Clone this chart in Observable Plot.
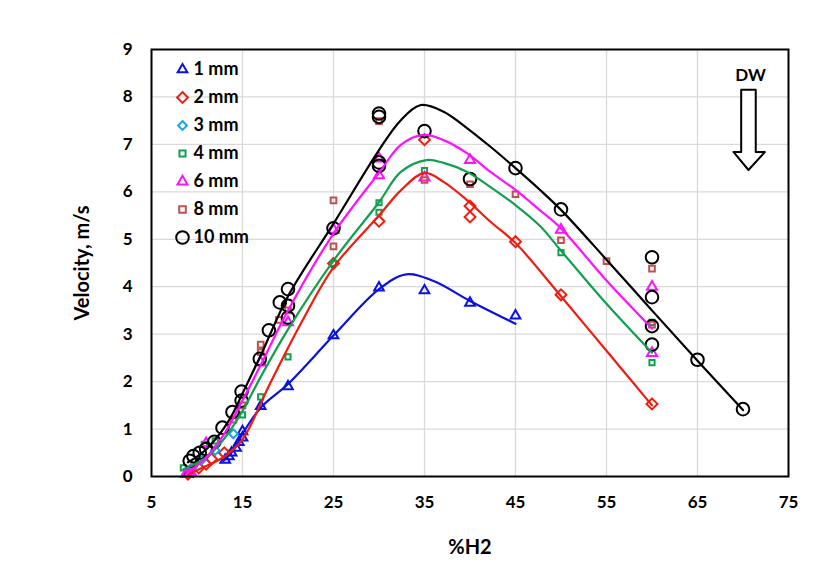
<!DOCTYPE html>
<html>
<head>
<meta charset="utf-8">
<script src="https://cdn.jsdelivr.net/npm/d3@7"></script>
<script src="https://cdn.jsdelivr.net/npm/@observablehq/plot@0.6"></script>
<style>
  html, body { margin: 0; padding: 0; background: #fff; }
  #chart { width: 830px; height: 587px; }
</style>
</head>
<body>
<div id="chart"></div>
<script>
// ---- Data ----
const seriesNames = ["1 mm", "2 mm", "3 mm", "4 mm", "6 mm", "8 mm", "10 mm"];
const seriesColors = ["#0a10e0", "#f01c10", "#1aa3e6", "#10a050", "#ff10ff", "#c0504d", "#000000"];
const seriesSymbols = ["triangle2", "diamond2", "diamond2", "square2", "triangle2", "square2", "circle"];
const seriesRadius = [4.6, 4.9, 4.0, 3.3, 4.8, 3.6, 6.3];

const xTicks = [5, 15, 25, 35, 45, 55, 65, 75];
const yTicks = [0, 1, 2, 3, 4, 5, 6, 7, 8, 9];

const h2_1mm = [9, 13.1, 13.5, 13.8, 14.3, 14.6, 15, 15, 17, 20, 25, 30, 35, 40, 45];
const v_1mm  = [0.05, 0.35, 0.42, 0.5, 0.6, 0.72, 0.82, 0.95, 1.48, 1.9, 2.97, 3.98, 3.92, 3.66, 3.39];

const h2_2mm = [9, 10.2, 11, 11.6, 13, 25, 30, 35, 40, 40, 45, 50, 60];
const v_2mm  = [0.05, 0.18, 0.26, 0.37, 0.5, 4.49, 5.38, 7.1, 5.7, 5.47, 4.95, 3.83, 1.53];

const h2_3mm = [9.5, 10.5, 12, 14];
const v_3mm  = [0.2, 0.35, 0.55, 0.9];

const h2_4mm = [8.5, 10.8, 12, 15, 17, 20, 25, 30, 30, 35, 50, 60, 60];
const v_4mm  = [0.18, 0.68, 0.75, 1.3, 1.68, 2.52, 4.49, 5.77, 5.57, 6.45, 4.72, 3.25, 2.4];

const h2_6mm = [8.8, 9.3, 11, 17, 20, 25, 30, 30, 35, 40, 50, 60, 60];
const v_6mm  = [0.05, 0.1, 0.7, 2.4, 3.25, 5.2, 6.7, 6.35, 6.3, 6.67, 5.2, 4.0, 2.6];

const h2_8mm = [14, 15, 17, 17, 19, 20, 25, 25, 30, 35, 40, 45, 50, 55, 60, 60];
const v_8mm  = [1.2, 1.5, 2.78, 2.62, 3.3, 3.5, 5.82, 4.85, 7.49, 6.25, 6.16, 5.95, 4.98, 4.54, 4.38, 3.2];

const h2_10mm = [9.2, 9.6, 10.3, 11, 11.9, 12.8, 13.9, 14.9, 14.9, 16.9, 17.9, 19.1, 20, 20, 20, 25, 30, 30, 30, 30, 35, 40, 45, 50, 60, 60, 60, 60, 65, 70];
const v_10mm  = [0.33, 0.43, 0.5, 0.58, 0.73, 1.03, 1.36, 1.79, 1.6, 2.48, 3.08, 3.67, 3.95, 3.6, 3.35, 5.23, 7.65, 7.58, 6.62, 6.55, 7.28, 6.27, 6.5, 5.63, 4.62, 3.78, 3.17, 2.78, 2.46, 1.42];

// Trend lines
const fitX_1mm = [12.9, 14, 15, 17, 20, 25, 30, 33, 36, 40, 45];
const fitV_1mm = [0.33, 0.55, 0.9, 1.45, 1.95, 2.97, 3.95, 4.26, 4.12, 3.7, 3.22];
const fitX_2mm = [9, 11, 13, 15, 18, 21.4, 25, 30, 32.4, 35, 37.1, 39.7, 42.25, 45, 50, 55, 60];
const fitV_2mm = [0.05, 0.22, 0.42, 0.78, 1.95, 3.22, 4.41, 5.5, 6.03, 6.4, 6.21, 5.82, 5.37, 4.92, 3.8, 2.65, 1.5];
const fitX_4mm = [8.5, 11, 13, 15, 17, 20, 25, 30, 32.4, 35.2, 37.1, 39.7, 42.25, 45, 47.7, 50, 55, 60];
const fitV_4mm = [0.15, 0.4, 0.8, 1.38, 2.1, 3.1, 4.55, 5.78, 6.42, 6.67, 6.61, 6.42, 6.1, 5.72, 5.28, 4.76, 3.64, 2.61];
const fitX_6mm = [8.8, 11, 13, 15, 17, 20, 25, 30, 32.4, 34.9, 37.1, 39.7, 42.25, 45, 47.7, 50, 55, 60];
const fitV_6mm = [0.05, 0.4, 0.9, 1.6, 2.35, 3.5, 5.12, 6.4, 6.99, 7.2, 7.09, 6.81, 6.42, 6.04, 5.61, 5.23, 4.13, 3.12];
const fitX_10mm = [9, 10, 11, 12, 13, 14, 15, 17, 20, 25, 30, 32.4, 34.6, 37.1, 39.7, 42.25, 45, 47.7, 50, 55, 60, 65, 70];
const fitV_10mm = [0.3, 0.42, 0.57, 0.78, 1.03, 1.35, 1.75, 2.55, 3.8, 5.33, 6.88, 7.51, 7.83, 7.69, 7.34, 6.95, 6.5, 6.04, 5.62, 4.57, 3.5, 2.44, 1.4];

// DW arrow annotation outline (data units)
const arrowX = [69.8, 71.4, 71.4, 72.4, 70.6, 68.95, 69.8, 69.8];
const arrowY = [8.15, 8.15, 6.84, 6.84, 6.46, 6.84, 6.84, 8.15];

// ---- Build tables ----
const pts = (xs, ys, s) => xs.map((x, i) => ({x, y: ys[i], s}));
const pointSets = [
  pts(h2_1mm, v_1mm, 0), pts(h2_2mm, v_2mm, 1), pts(h2_3mm, v_3mm, 2),
  pts(h2_4mm, v_4mm, 3), pts(h2_6mm, v_6mm, 4), pts(h2_8mm, v_8mm, 5),
  pts(h2_10mm, v_10mm, 6)
];
const fitSets = [
  [pts(fitX_1mm, fitV_1mm, 0), 0],
  [pts(fitX_2mm, fitV_2mm, 1), 1],
  [pts(fitX_4mm, fitV_4mm, 3), 3],
  [pts(fitX_6mm, fitV_6mm, 4), 4],
  [pts(fitX_10mm, fitV_10mm, 6), 6]
];
const arrow = arrowX.map((x, i) => ({x, y: arrowY[i]}));

const font = "Lato, 'Open Sans', sans-serif";
const marks = [];
marks.push(Plot.gridX(xTicks.slice(1, -1), {stroke: "#d9d9d9", strokeOpacity: 1, strokeWidth: 1.3}));
marks.push(Plot.gridY(yTicks.slice(1, -1), {stroke: "#d9d9d9", strokeOpacity: 1, strokeWidth: 1.3}));
marks.push(Plot.axisX(xTicks, {tickSize: 0, tickPadding: 19, label: null, fontSize: 17, fontWeight: "bold"}));
marks.push(Plot.axisY(yTicks, {tickSize: 0, tickPadding: 19, label: null, fontSize: 17, fontWeight: "bold"}));

// points
pointSets.forEach((set, k) => {
  marks.push(Plot.dot(set, {
    x: "x", y: "y", symbol: () => seriesSymbols[k], r: seriesRadius[k],
    stroke: seriesColors[k], strokeWidth: 2, fill: "none"
  }));
});
// fit lines
fitSets.forEach(([set, k]) => {
  marks.push(Plot.line(set, {x: "x", y: "y", stroke: seriesColors[k], strokeWidth: 2.2, curve: "catmull-rom"}));
});

// frame
marks.push(Plot.frame({stroke: "#000", strokeWidth: 2}));

// legend inside plot
seriesNames.forEach((name, i) => {
  marks.push(Plot.dot([name], {
    frameAnchor: "top-left", dx: 31, dy: 20 + i * 28,
    symbol: () => seriesSymbols[i], r: seriesRadius[i] + (i === 3 || i === 5 ? 0.6 : 0),
    stroke: seriesColors[i], strokeWidth: 2, fill: "none"
  }));
  marks.push(Plot.text([name], {
    frameAnchor: "top-left", dx: 42, dy: 20 + i * 28, text: d => d,
    textAnchor: "start", lineAnchor: "middle", fontSize: 18, fontWeight: "bold", fill: "#000"
  }));
});

// DW annotation
marks.push(Plot.line(arrow, {x: "x", y: "y", stroke: "#000", strokeWidth: 2, fill: "white", curve: "linear"}));
marks.push(Plot.text(["DW"], {frameAnchor: "top-right", dx: -38, dy: 26, text: d => d, textAnchor: "middle", lineAnchor: "middle", fontSize: 17, fontWeight: "bold", fill: "#000"}));

// axis titles
marks.push(Plot.text(["%H2"], {frameAnchor: "bottom", dy: 71, text: d => d, lineAnchor: "middle", fontSize: 20, fontWeight: "bold", fill: "#000"}));
marks.push(Plot.text(["Velocity, m/s"], {frameAnchor: "left", dx: -69, rotate: -90, text: d => d, textAnchor: "middle", lineAnchor: "middle", fontSize: 20, fontWeight: "bold", fill: "#000"}));

const chart = Plot.plot({
  width: 830,
  height: 587,
  marginLeft: 151,
  marginRight: 42,
  marginTop: 49,
  marginBottom: 111,
  x: {domain: [5, 75]},
  y: {domain: [0, 9]},
  style: {fontFamily: font, fontSize: "16px", color: "#000", background: "#fff", overflow: "visible"},
  marks
});
document.getElementById("chart").appendChild(chart);
</script>
</body>
</html>
